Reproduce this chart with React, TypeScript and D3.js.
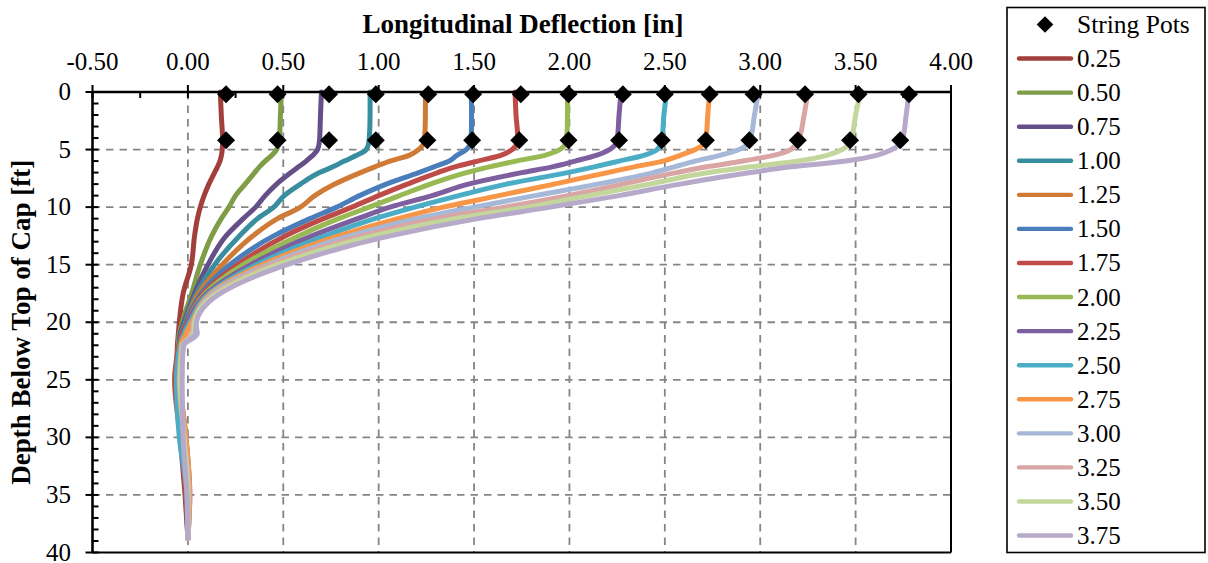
import React from 'react';
import * as d3 from 'd3';

// depth below top of cap [ft] shared by every deflection profile
const depths = [0, 2, 4.2, 5, 5.5, 6, 6.5, 7, 8, 9, 10, 11, 12.5, 15, 17.5, 20, 21, 22, 25, 30, 35, 38.8];

const s025 = [0.17, 0.175, 0.182, 0.18, 0.176, 0.168, 0.155, 0.14, 0.11, 0.085, 0.065, 0.05, 0.035, 0.018, -0.025, -0.045, -0.05, -0.055, -0.06, -0.04, -0.015, 0.0];
const s050 = [0.49, 0.485, 0.48, 0.465, 0.44, 0.405, 0.375, 0.35, 0.3, 0.25, 0.215, 0.175, 0.125, 0.065, 0.02, -0.03, -0.045, -0.05, -0.055, -0.03, -0.005, 0.0];
const s075 = [0.7, 0.695, 0.69, 0.68, 0.655, 0.62, 0.58, 0.54, 0.465, 0.405, 0.355, 0.29, 0.2, 0.105, 0.035, -0.02, -0.04, -0.045, -0.05, -0.025, 0.0, 0.0];
const s100 = [0.955, 0.955, 0.95, 0.935, 0.885, 0.82, 0.76, 0.69, 0.59, 0.505, 0.45, 0.365, 0.27, 0.14, 0.045, -0.015, -0.035, -0.045, -0.065, -0.03, -0.01, 0.0];
const s125 = [1.245, 1.245, 1.24, 1.21, 1.16, 1.06, 0.98, 0.905, 0.77, 0.665, 0.59, 0.47, 0.34, 0.18, 0.055, -0.01, -0.03, -0.04, -0.05, -0.02, 0.005, 0.0];
const s150 = [1.485, 1.487, 1.485, 1.46, 1.41, 1.37, 1.29, 1.21, 1.04, 0.9, 0.78, 0.64, 0.45, 0.22, 0.07, -0.01, -0.03, -0.04, -0.045, -0.02, 0.005, 0.0];
const s175 = [1.715, 1.72, 1.73, 1.7, 1.64, 1.52, 1.4, 1.31, 1.15, 1.0, 0.86, 0.71, 0.51, 0.26, 0.08, -0.005, -0.03, -0.045, -0.07, -0.04, -0.01, 0.0];
const s200 = [1.99, 1.99, 1.985, 1.95, 1.87, 1.72, 1.58, 1.46, 1.27, 1.11, 0.95, 0.79, 0.58, 0.29, 0.09, 0.0, -0.02, -0.04, -0.05, -0.02, 0.005, 0.0];
const s225 = [2.27, 2.26, 2.25, 2.21, 2.14, 2.03, 1.91, 1.75, 1.47, 1.28, 1.06, 0.89, 0.65, 0.33, 0.1, 0.0, -0.02, -0.035, -0.04, -0.01, 0.01, 0.0];
const s250 = [2.51, 2.495, 2.485, 2.46, 2.39, 2.26, 2.13, 1.99, 1.67, 1.42, 1.19, 0.98, 0.72, 0.36, 0.11, 0.01, -0.02, -0.04, -0.06, -0.045, -0.005, 0.0];
const s275 = [2.735, 2.725, 2.715, 2.66, 2.58, 2.49, 2.34, 2.2, 1.92, 1.63, 1.34, 1.1, 0.79, 0.39, 0.12, 0.02, -0.01, -0.035, -0.04, -0.01, 0.01, 0.0];
const s300 = [2.99, 2.97, 2.945, 2.89, 2.79, 2.66, 2.55, 2.44, 2.15, 1.82, 1.5, 1.2, 0.85, 0.42, 0.13, 0.04, 0.05, -0.02, -0.04, -0.02, 0.005, 0.0];
const s325 = [3.25, 3.23, 3.2, 3.16, 3.07, 2.91, 2.72, 2.56, 2.28, 1.99, 1.66, 1.3, 0.91, 0.44, 0.14, 0.03, 0.02, -0.03, -0.045, -0.02, 0.005, 0.0];
const s350 = [3.525, 3.5, 3.475, 3.43, 3.35, 3.2, 2.95, 2.73, 2.42, 2.1, 1.78, 1.4, 0.97, 0.47, 0.15, 0.035, 0.03, -0.03, -0.04, -0.02, 0.0, 0.0];
const s375 = [3.78, 3.765, 3.745, 3.69, 3.61, 3.45, 3.16, 2.95, 2.58, 2.26, 1.9, 1.52, 1.06, 0.52, 0.17, 0.045, 0.04, -0.025, -0.03, -0.025, -0.005, 0.0];

const seriesNames = ['0.25', '0.50', '0.75', '1.00', '1.25', '1.50', '1.75', '2.00', '2.25', '2.50', '2.75', '3.00', '3.25', '3.50', '3.75'];
const seriesValues = [s025, s050, s075, s100, s125, s150, s175, s200, s225, s250, s275, s300, s325, s350, s375];
const seriesColors = ['#A23E3B', '#7F9C47', '#654F89', '#388D9F', '#D07B35', '#4A7EBB', '#BE4B48', '#98B954', '#7D5FA0', '#4BACC6', '#F79646', '#A6B8D8', '#D9A6A5', '#C3D69B', '#B6A9C9'];

// string pot readings: two gauges per load step
const potDepths = [0.2, 4.2];
const potTop = [0.2, 0.47, 0.74, 0.985, 1.26, 1.495, 1.745, 1.995, 2.28, 2.5, 2.735, 2.965, 3.235, 3.515, 3.78];
const potLower = [0.2, 0.47, 0.74, 0.985, 1.255, 1.49, 1.737, 1.995, 2.26, 2.484, 2.715, 2.943, 3.197, 3.471, 3.734];

const xTicks = [-0.5, 0, 0.5, 1, 1.5, 2, 2.5, 3, 3.5, 4];
const xTickLabels = ['-0.50', '0.00', '0.50', '1.00', '1.50', '2.00', '2.50', '3.00', '3.50', '4.00'];
const xMinor = [-0.25, 0.25, 0.75, 1.25, 1.75, 2.25, 2.75, 3.25, 3.75];
const yTicks = [0, 5, 10, 15, 20, 25, 30, 35, 40];

const FONT = '"Liberation Serif", "Times New Roman", serif';

const diamond = (r: number) => `M0,${-r}L${r},0L0,${r}L${-r},0Z`;

export default function App() {
  const x = d3.scaleLinear().domain([-0.5, 4]).range([92.5, 951]);
  const y = d3.scaleLinear().domain([0, 40]).range([92, 552.5]);

  const yMinor = d3.range(1, 40).filter((v) => v % 5 !== 0);

  const line = d3
    .line<[number, number]>()
    .x((d) => x(d[0]))
    .y((d) => y(d[1]))
    .curve(d3.curveMonotoneY);

  const legendY = (i: number) => 24.5 + i * 34.07;

  return (
    <svg
      width={1208}
      height={563}
      style={{ position: 'absolute', left: 0, top: 0, background: '#fff' }}
      fontFamily={FONT}
    >
      {/* grid */}
      {xTicks.slice(1, -1).map((t) => (
        <line key={'gx' + t} x1={x(t)} x2={x(t)} y1={y(0)} y2={y(40)} stroke="#858585" strokeWidth={1.8} strokeDasharray="7.5,6" />
      ))}
      {yTicks.slice(1, -1).map((t) => (
        <line key={'gy' + t} x1={x(-0.5)} x2={x(4)} y1={y(t)} y2={y(t)} stroke="#858585" strokeWidth={1.8} strokeDasharray="7.5,6" />
      ))}

      {/* borders */}
      <line x1={x(4)} x2={x(4)} y1={y(0)} y2={y(40)} stroke="#000" strokeWidth={2} />
      <line x1={x(-0.5)} x2={x(4)} y1={y(40)} y2={y(40)} stroke="#000" strokeWidth={2} />

      {/* series */}
      {seriesValues.map((vals, i) => (
        <path
          key={seriesNames[i]}
          d={line(vals.map((v, j) => [v, depths[j]] as [number, number])) || ''}
          fill="none"
          stroke={seriesColors[i]}
          strokeWidth={5}
          strokeLinecap="round"
          strokeLinejoin="round"
        />
      ))}

      {/* axes */}
      <line x1={x(-0.5)} x2={x(4)} y1={y(0)} y2={y(0)} stroke="#000" strokeWidth={2.6} />
      <line x1={x(-0.5)} x2={x(-0.5)} y1={y(0)} y2={y(40)} stroke="#000" strokeWidth={2.6} />
      {xTicks.map((t) => (
        <line key={'xt' + t} x1={x(t)} x2={x(t)} y1={y(0) - 7} y2={y(0) + 6} stroke="#000" strokeWidth={2} />
      ))}
      {xMinor.map((t) => (
        <line key={'xm' + t} x1={x(t)} x2={x(t)} y1={y(0)} y2={y(0) + 6} stroke="#000" strokeWidth={2} />
      ))}
      {yTicks.map((t) => (
        <line key={'yt' + t} x1={x(-0.5) - 7} x2={x(-0.5) + 6} y1={y(t)} y2={y(t)} stroke="#000" strokeWidth={2} />
      ))}
      {yMinor.map((t) => (
        <line key={'ym' + t} x1={x(-0.5)} x2={x(-0.5) + 6} y1={y(t)} y2={y(t)} stroke="#000" strokeWidth={2} />
      ))}

      {/* string pots */}
      {[potTop, potLower].map((row, r) =>
        row.map((v, i) => (
          <path key={'p' + r + '-' + i} d={diamond(9)} transform={`translate(${x(v)},${y(potDepths[r])})`} fill="#000" />
        ))
      )}

      {/* tick labels */}
      {xTicks.map((t, i) => (
        <text key={'xl' + t} x={x(t)} y={70} textAnchor="middle" fontSize={25}>
          {xTickLabels[i]}
        </text>
      ))}
      {yTicks.map((t) => (
        <text key={'yl' + t} x={71} y={y(t)} dy="0.32em" textAnchor="end" fontSize={25}>
          {t}
        </text>
      ))}

      {/* titles */}
      <text x={523} y={33} textAnchor="middle" fontSize={27} fontWeight="bold">
        Longitudinal Deflection [in]
      </text>
      <text transform={`translate(30,${(y(0) + y(40)) / 2}) rotate(-90)`} textAnchor="middle" fontSize={27} fontWeight="bold">
        Depth Below Top of Cap [ft]
      </text>

      {/* legend */}
      <rect x={1007} y={7.5} width={198} height={545} fill="#fff" stroke="#000" strokeWidth={1.6} />
      <path d={diamond(8.3)} transform={`translate(1045,${legendY(0)})`} fill="#000" />
      <text x={1077} y={legendY(0)} dy="0.34em" fontSize={25.5}>
        String Pots
      </text>
      {seriesNames.map((n, i) => (
        <g key={'lg' + n}>
          <line x1={1019} x2={1071} y1={legendY(i + 1)} y2={legendY(i + 1)} stroke={seriesColors[i]} strokeWidth={4.4} strokeLinecap="round" />
          <text x={1077} y={legendY(i + 1)} dy="0.34em" fontSize={25}>
            {n}
          </text>
        </g>
      ))}
    </svg>
  );
}
